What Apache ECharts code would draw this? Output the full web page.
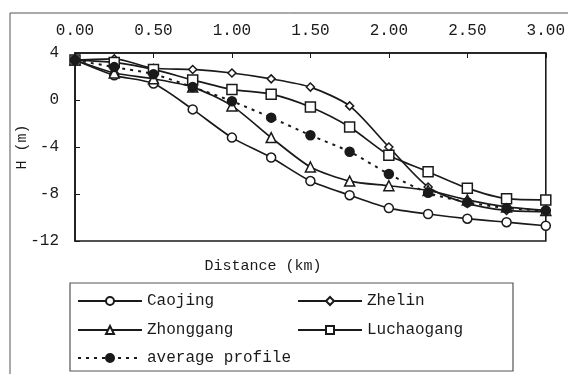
<!DOCTYPE html>
<html>
<head>
<meta charset="utf-8">
<script src="https://cdn.jsdelivr.net/npm/echarts@6/dist/echarts.min.js"></script>
<style>
  html, body { margin: 0; padding: 0; background: #fff; }
  #chart { width: 568px; height: 374px; }
</style>
</head>
<body>
<div id="chart"></div>
<script>
// distance along profile (km)
var distance = [0, 0.25, 0.5, 0.75, 1.0, 1.25, 1.5, 1.75, 2.0, 2.25, 2.5, 2.75, 3.0];
var caojing    = [3.4, 2.1, 1.4, -0.8, -3.2, -4.9, -6.9, -8.1, -9.2, -9.7, -10.1, -10.4, -10.7];
var zhelin     = [3.4, 3.5, 2.7, 2.6, 2.3, 1.8, 1.1, -0.5, -4.0, -7.4, -8.8, -9.4, -9.5];
var zhonggang  = [3.4, 2.3, 1.8, 1.1, -0.5, -3.2, -5.7, -6.9, -7.3, -7.7, -8.5, -9.1, -9.4];
var luchaogang = [3.4, 3.2, 2.6, 1.7, 0.9, 0.5, -0.6, -2.3, -4.7, -6.1, -7.5, -8.4, -8.5];
var average    = [3.4, 2.8, 2.2, 1.1, -0.1, -1.5, -3.0, -4.4, -6.3, -7.9, -8.7, -9.2, -9.4];

var FONT = 'Liberation Mono';
var INK = '#1a1a1a';

function pairs(vals) {
    var out = [];
    for (var i = 0; i < vals.length; i++) out.push([distance[i], vals[i]]);
    return out;
}

function lineSeries(name, vals, symbol, size, filled, dashed) {
    return {
        name: name,
        type: 'line',
        data: pairs(vals),
        smooth: 0.25,
        symbol: symbol,
        symbolSize: size,
        showAllSymbol: true,
        lineStyle: { color: INK, width: dashed ? 2 : 1.7, type: dashed ? [3, 5] : 'solid' },
        itemStyle: { color: filled ? INK : '#fff', borderColor: INK, borderWidth: 1.5 },
        emphasis: { disabled: true }
    };
}

function legendItem(name, left, top) {
    return {
        data: [name],
        left: left,
        top: top,
        padding: 0,
        itemWidth: 64,
        itemHeight: 10,
        itemGap: 4,
        selectedMode: false,
        textStyle: { fontFamily: FONT, fontSize: 16, color: INK }
    };
}

var option = {
    animation: false,
    backgroundColor: '#fff',
    grid: {
        left: 75, right: 19, top: 53, bottom: 133,
        show: true, borderColor: INK, borderWidth: 1.6
    },
    xAxis: {
        type: 'value',
        position: 'top',
        min: 0, max: 3, interval: 0.5,
        axisLine: { show: true, onZero: false, lineStyle: { color: INK, width: 1.6 } },
        axisTick: { inside: true, length: 5, lineStyle: { color: INK } },
        splitLine: { show: false },
        axisLabel: {
            margin: 14,
            fontFamily: FONT, fontSize: 16, color: INK,
            formatter: function (v) { return v.toFixed(2); }
        }
    },
    yAxis: {
        type: 'value',
        min: -12, max: 4, interval: 4,
        axisLine: { show: true, onZero: false, lineStyle: { color: INK, width: 1.6 } },
        axisTick: { inside: true, length: 5, lineStyle: { color: INK } },
        splitLine: { show: false },
        axisLabel: { margin: 16, fontFamily: FONT, fontSize: 16, color: INK }
    },
    legend: [
        legendItem('Caojing', 77, 293),
        legendItem('Zhelin', 297, 293),
        legendItem('Zhonggang', 77, 322),
        legendItem('Luchaogang', 297, 322),
        legendItem('average profile', 77, 350)
    ],
    graphic: [
        { type: 'rect', shape: { x: 10, y: 13, width: 600, height: 400 },
          style: { fill: 'none', stroke: '#555', lineWidth: 1 }, silent: true },
        { type: 'rect', shape: { x: 70, y: 283, width: 443, height: 88 },
          style: { fill: 'none', stroke: '#555', lineWidth: 1.2 }, silent: true },
        { type: 'text', x: 263, y: 266,
          style: { text: 'Distance (km)', fontFamily: FONT, fontSize: 15, fill: INK,
                   textAlign: 'center', textVerticalAlign: 'middle' }, silent: true },
        { type: 'text', x: 22, y: 147, rotation: Math.PI / 2,
          style: { text: 'H (m)', fontFamily: FONT, fontSize: 15, fill: INK,
                   textAlign: 'center', textVerticalAlign: 'middle' }, silent: true }
    ],
    series: [
        lineSeries('Caojing', caojing, 'circle', 9, false, false),
        lineSeries('Zhelin', zhelin, 'diamond', 8, false, false),
        lineSeries('Zhonggang', zhonggang, 'triangle', 10, false, false),
        lineSeries('Luchaogang', luchaogang, 'rect', 10, false, false),
        lineSeries('average profile', average, 'circle', 9, true, true)
    ]
};

var chart = echarts.init(document.getElementById('chart'), null, { renderer: 'canvas' });
chart.setOption(option);
</script>
</body>
</html>
